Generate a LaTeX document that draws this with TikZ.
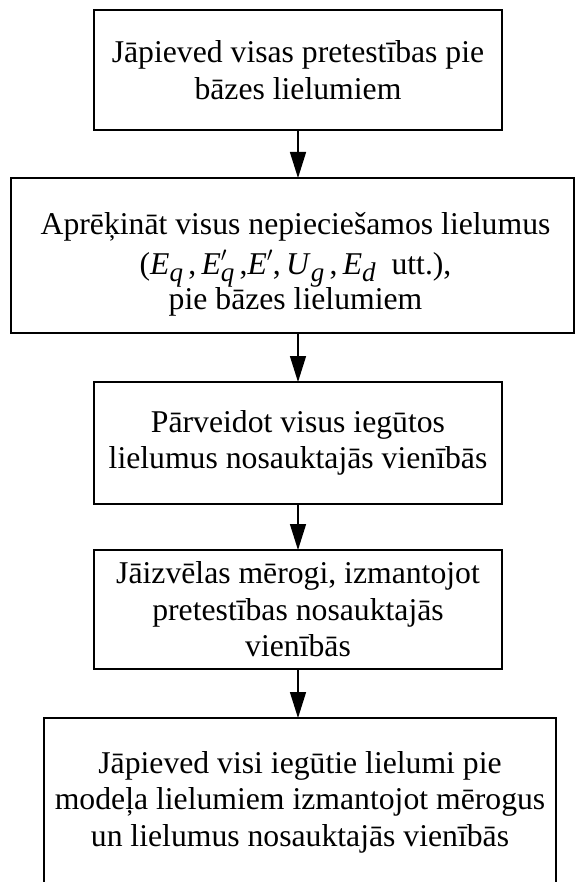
\documentclass[tikz,border=0pt]{standalone}
\usepackage{fontspec}
\setmainfont{Liberation Serif}
\usetikzlibrary{arrows.meta}
\newcommand{\lowsub}[1]{\raisebox{-7pt}{\fontsize{27}{27}\selectfont\textit{#1}}}
\newcommand{\vr}[1]{\textit{#1}}
\newcommand{\pr}{\rlap{\raisebox{4pt}{$^{\prime}$}}}
\begin{document}
\begin{tikzpicture}[x=1pt,y=-1pt,
  frame/.style={draw, line width=1.4pt, inner sep=0pt, outer sep=0pt},
  txt/.style={inner sep=0pt, align=center, font=\fontsize{31.7}{36.5}\selectfont},
  box/.style={frame, txt},
  arr/.style={line width=1.4pt, -{Triangle[length=26pt,width=16pt]}}]
\useasboundingbox (0,0) rectangle (576,882);
\node[box, minimum width=408pt, minimum height=120pt] (b1) at (298,70)
  {Jāpieved visas pretestības pie\\bāzes lielumiem};
\node[frame, minimum width=563pt, minimum height=155pt] (b2) at (292.5,255.5) {};
\node[txt] (t2) at ([xshift=3pt,yshift=-9pt]b2.center)
  {Aprēķināt visus nepieciešamos lielumus\\[3pt]
   (\vr{E}\lowsub{q}\,,\,\vr{E}\pr\lowsub{q}\,,\vr{E}\pr\hspace{6pt},\,\vr{U}\lowsub{g}\,,\,\vr{E}\lowsub{d}\ \ utt.),\\[-1pt]
   pie bāzes lielumiem};
\node[box, minimum width=408pt, minimum height=122pt] (b3) at (298,443)
  {Pārveidot visus iegūtos\\lielumus nosauktajās vienībās};
\node[box, minimum width=408pt, minimum height=119pt] (b4) at (298,609.5)
  {Jāizvēlas mērogi, izmantojot\\pretestības nosauktajās\\vienībās};
\node[box, minimum width=512pt, minimum height=168pt] (b5) at (300,802)
  {Jāpieved visi iegūtie lielumi pie\\modeļa lielumiem izmantojot mērogus\\un lielumus nosauktajās vienībās};
\draw[arr] (b1.south) -- (b1.south |- b2.north);
\draw[arr] (b1.south |- b2.south) -- (b3.north);
\draw[arr] (b3.south) -- (b4.north);
\draw[arr] (b4.south) -- (b4.south |- b5.north);
\end{tikzpicture}
\end{document}
